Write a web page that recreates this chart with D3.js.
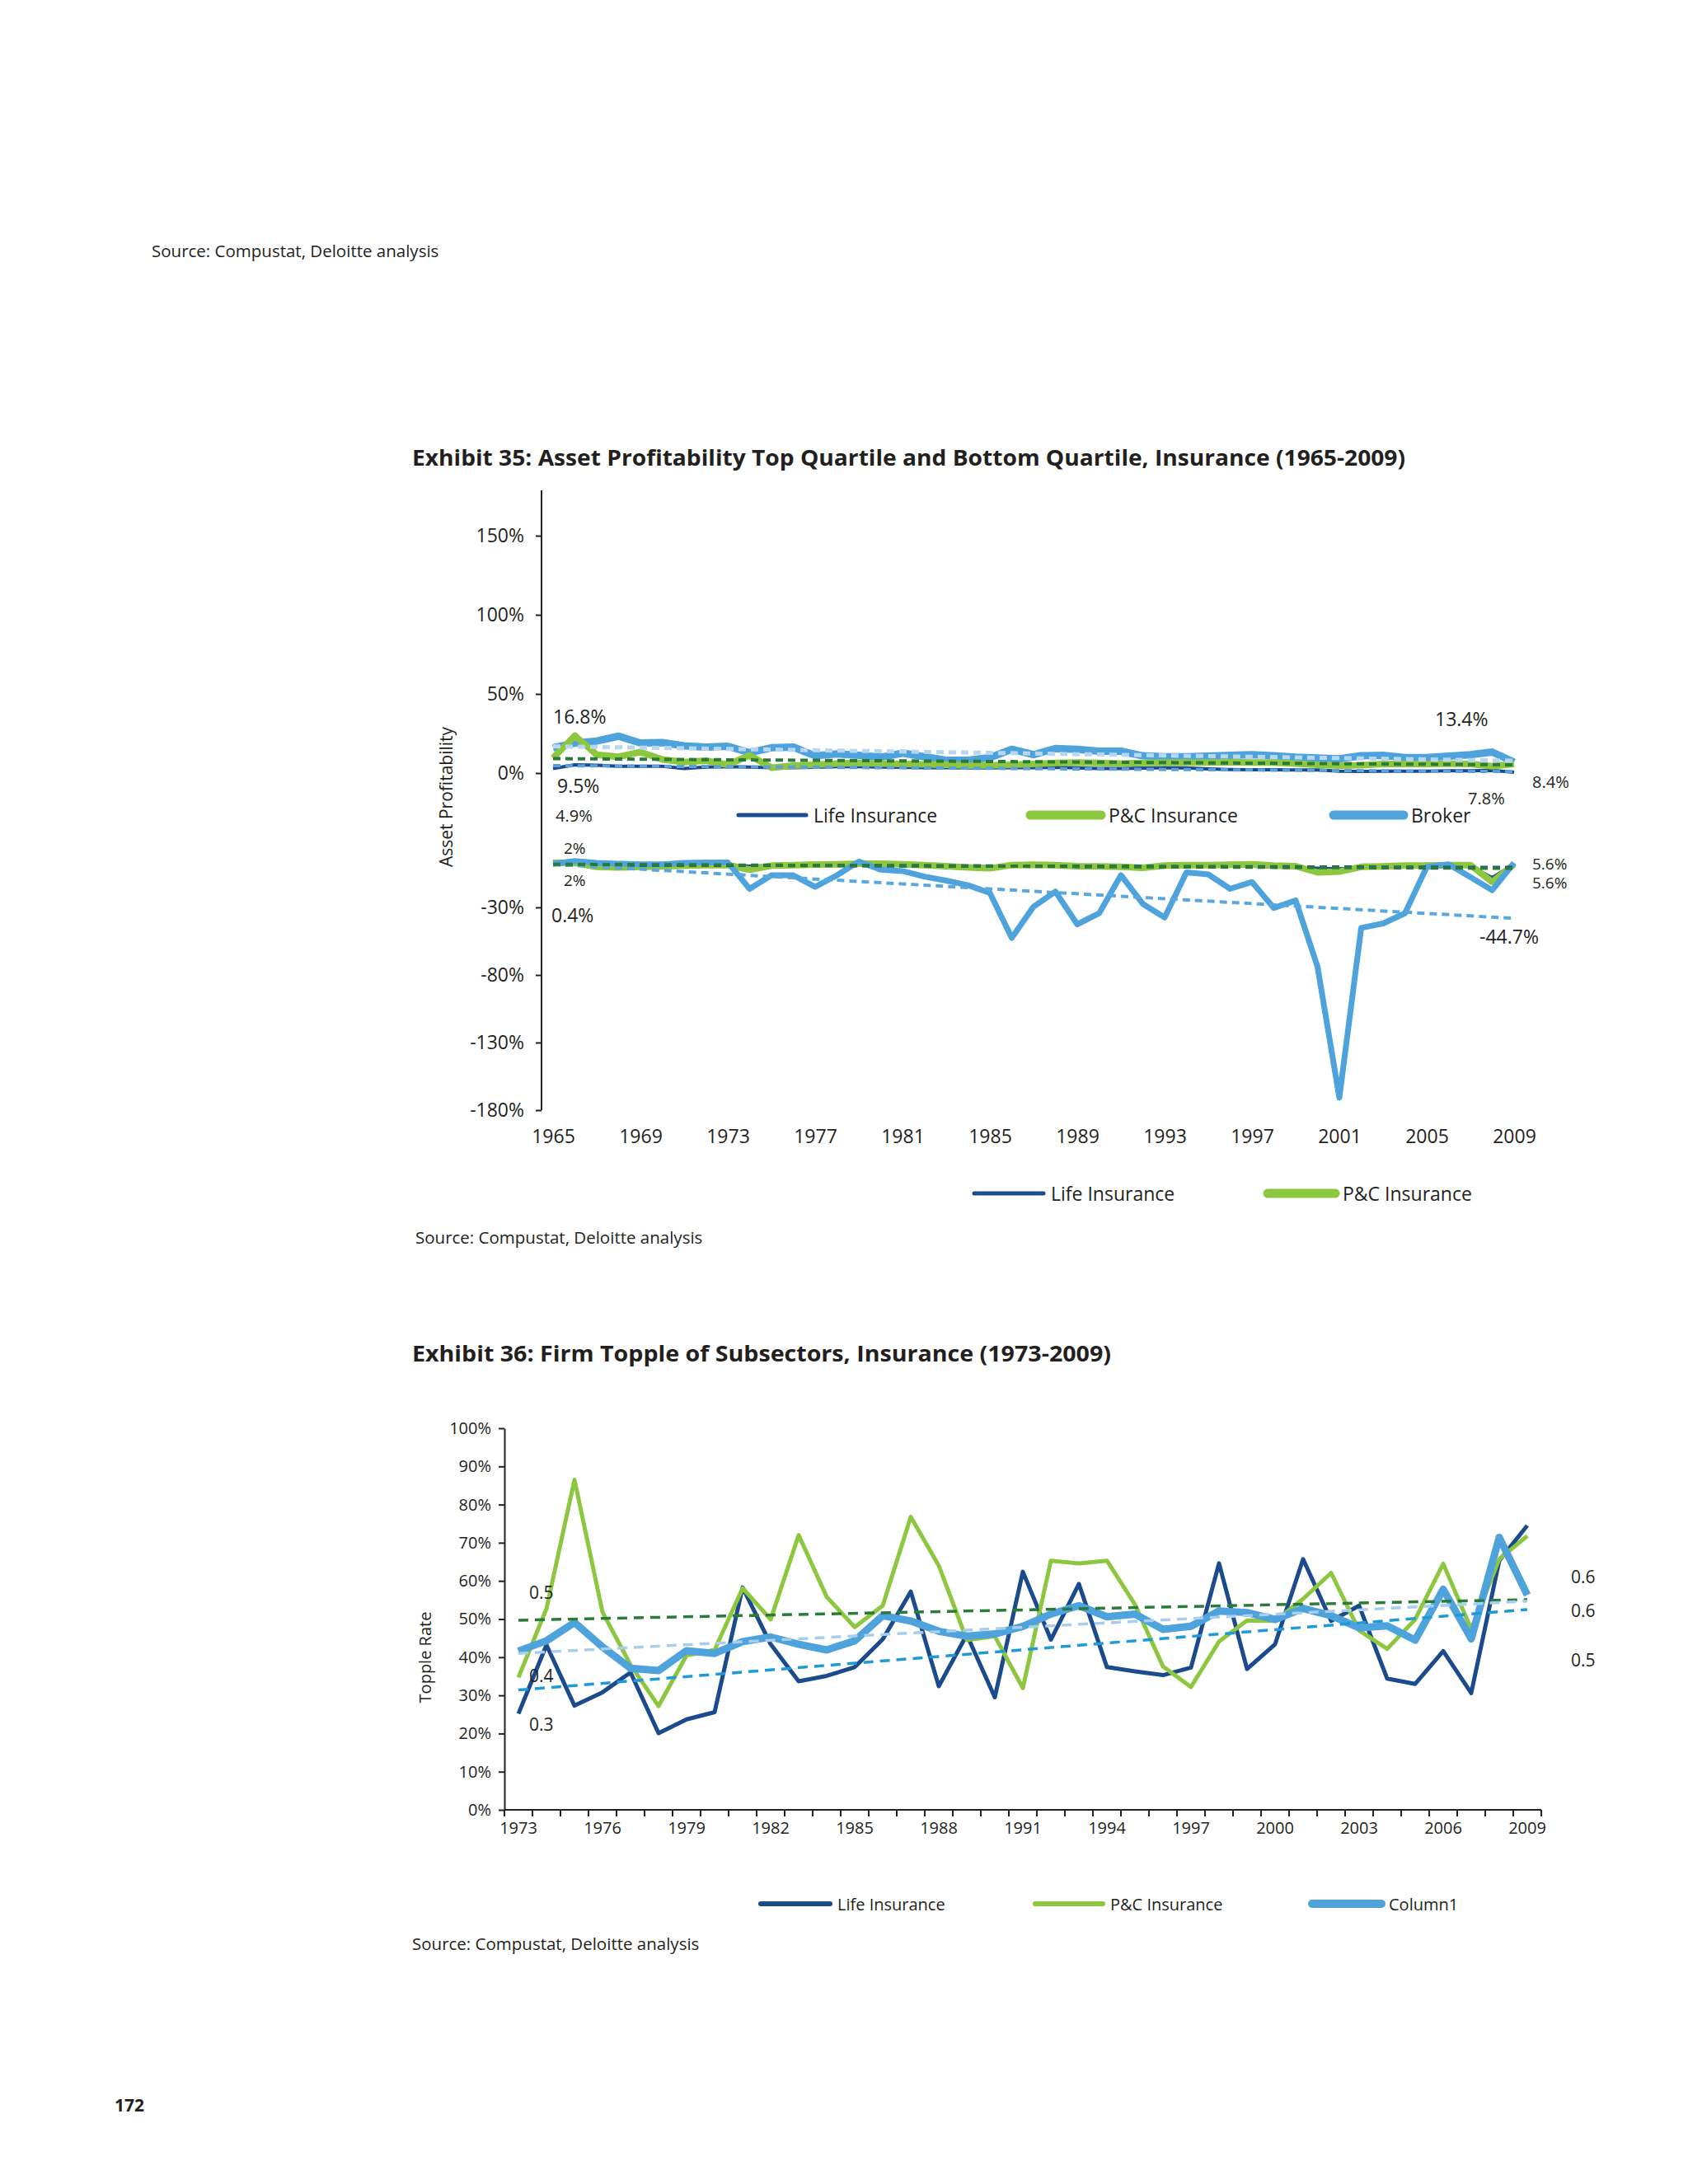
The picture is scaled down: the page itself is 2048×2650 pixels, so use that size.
<!DOCTYPE html>
<html>
<head>
<meta charset="utf-8">
<script src="https://cdn.jsdelivr.net/npm/d3@7"></script>
<style>
  html, body { margin: 0; padding: 0; background: #fff; }
  svg text { font-family: "Open Sans", "Noto Sans", sans-serif; fill: #231f20; }
</style>
</head>
<body>
<div id="wrapper"></div>
<script>
// ---- Exhibit 35 data (top quartile / bottom quartile) ----
const years35 = [1965,1966,1967,1968,1969,1970,1971,1972,1973,1974,1975,1976,1977,1978,1979,1980,1981,1982,1983,1984,1985,1986,1987,1988,1989,1990,1991,1992,1993,1994,1995,1996,1997,1998,1999,2000,2001,2002,2003,2004,2005,2006,2007,2008,2009];
const yearTicks35 = [1965,1969,1973,1977,1981,1985,1989,1993,1997,2001,2005,2009];
const upperTicks = [0, 50, 100, 150];
const lowerTicks = [-30, -80, -130, -180];

const lifeTop = [2.9,5.2,5.0,4.3,4.3,4.3,2.9,3.8,4.0,3.8,3.4,3.4,3.6,4.0,4.0,3.8,3.6,3.4,3.4,3.3,3.3,3.4,3.4,3.6,3.3,2.9,2.9,3.1,3.4,3.3,2.6,2.2,2.1,2.1,1.9,1.9,1.2,1.0,1.2,1.2,1.2,1.4,1.4,1.7,0.5];
const pcTop = [9.5,23.6,11.6,10.3,13.3,8.6,6.9,7.8,5.2,11.2,3.4,4.7,5.2,6.0,6.4,6.0,5.7,5.5,5.2,4.7,4.8,5.2,5.7,6.4,6.6,6.4,6.0,6.4,6.6,6.6,6.7,6.9,6.7,6.6,6.0,5.2,4.7,5.0,5.7,5.7,5.7,6.0,5.7,4.3,5.7];
const brokerTop = [15.9,19.0,20.2,23.3,19.0,19.3,17.2,16.4,16.9,12.9,16.0,16.4,10.9,12.1,11.2,10.0,12.6,10.3,8.1,8.1,9.8,15.0,11.6,15.5,15.0,13.8,13.8,10.9,10.3,10.3,10.7,11.2,11.6,10.9,10.0,9.5,9.0,10.9,11.2,9.8,9.8,10.7,11.6,13.3,6.9];

const lifeBot = [2.5,3.5,2.0,1.5,1.5,1.5,1.5,1.5,1.5,0.5,1.0,1.0,1.0,1.5,1.5,1.5,1.0,0.5,0.5,0.5,0,1.0,1.0,0.5,0.5,0.5,0,0,0.5,0.5,0.5,0.5,0.5,0,-0.5,-1.0,-1.5,-0.5,0,0.5,0.5,1.0,0.5,-8.0,2.0];
const pcBot = [2.9,2.9,0,-0.5,0,0.3,0.9,1.3,1.3,-2.1,0.9,1.3,1.7,1.9,2.3,2.3,1.9,1.3,0.5,-0.5,-1.1,1.3,1.5,1.3,0.5,0.3,0,-0.7,0.9,1.3,1.3,1.5,1.9,0.9,0.5,-4.1,-3.5,0,0.3,0.9,0.9,1.3,1.3,-11.2,1.9];
const brokerBot = [2.3,4.3,2.9,2.3,1.9,1.9,2.9,3.3,3.3,-16.3,-6.2,-6.2,-14.8,-6.2,3.9,-2.1,-3.1,-7.2,-10.2,-13.6,-19.3,-52.6,-29.4,-18.3,-42.5,-34.4,-6.2,-27.4,-37.5,-4.1,-5.6,-16.3,-11.2,-30.4,-24.9,-73.8,-170.8,-45.2,-41.9,-34.4,-0.1,1.9,-7.6,-17.3,2.9];

// trend line end values [1965, 2009]
const trendTopBroker = [16.9, 7.8];
const trendTopPC = [9.1, 5.2];
const trendTopLife = [4.7, 0.9];
const trendBotBroker = [1.9, -38.1];
const trendBotPC = [1.9, -1.1];
const trendBotLife = [1.5, -0.5];

// ---- Exhibit 36 data ----
const years36 = [1973,1974,1975,1976,1977,1978,1979,1980,1981,1982,1983,1984,1985,1986,1987,1988,1989,1990,1991,1992,1993,1994,1995,1996,1997,1998,1999,2000,2001,2002,2003,2004,2005,2006,2007,2008,2009];
const yearTicks36 = [1973,1976,1979,1982,1985,1988,1991,1994,1997,2000,2003,2006,2009];
const rateTicks = [0,0.1,0.2,0.3,0.4,0.5,0.6,0.7,0.8,0.9,1.0];
const life36 = [25.2,43.2,27.3,30.8,36.0,20.1,23.7,25.6,58.3,43.4,33.7,35.1,37.4,44.7,57.2,32.4,45.9,29.5,62.4,44.6,59.2,37.4,36.3,35.3,37.3,64.6,36.9,43.4,65.7,49.5,53.5,34.4,33.0,41.6,30.6,65.3,74.5];
const pc36 = [34.7,52.7,86.5,51.8,38.0,27.2,40.5,41.9,58.1,49.9,72.0,55.8,47.9,53.5,76.8,64.0,44.5,45.5,31.9,65.3,64.6,65.3,53.8,37.6,32.2,44.1,49.6,49.5,55.3,62.1,47.0,42.2,49.9,64.5,47.3,65.7,71.8];
const col36 = [41.6,44.3,49.1,42.7,37.1,36.5,41.7,41.0,44.1,45.3,43.4,41.9,44.3,50.9,49.5,46.8,45.5,46.1,48.1,51.3,53.5,50.6,51.3,47.3,48.1,52.1,51.7,49.9,52.8,50.9,47.7,48.2,44.5,57.8,44.8,71.4,56.3];
const trend36PC = [49.7, 55.1];
const trend36Col = [41.0, 54.7];
const trend36Life = [31.4, 52.5];

const C = {
  life: "#1b4a8d",
  pc: "#8dc63f",
  broker: "#4ea3dc",
  trendGreen: "#2a7a3a",
  trendPale: "#b7d6ef",
  trendBlue: "#1f9ad6",
  trendLife: "#5d9fd8"
};

const svg = d3.select("#wrapper").append("svg")
  .attr("width", 2048).attr("height", 2650);
svg.append("rect").attr("width", 2048).attr("height", 2650).attr("fill", "#fff");

function label(x, y, txt, size, opts = {}) {
  const t = svg.append("text").attr("x", x).attr("y", y)
    .attr("font-size", size).attr("dominant-baseline", "central")
    .attr("text-anchor", opts.anchor || "start")
    .attr("font-weight", opts.bold ? 700 : 400)
    .text(txt);
  if (opts.len) t.attr("textLength", opts.len).attr("lengthAdjust", "spacingAndGlyphs");
  return t;
}

// page text
label(184, 304, "Source: Compustat, Deloitte analysis", 20.5);
label(139, 2554, "172", 21, { bold: true });

// ================= Exhibit 35 =================
label(500, 554, "Exhibit 35: Asset Profitability Top Quartile and Bottom Quartile, Insurance (1965-2009)", 27, { bold: true, len: 1205 });

const x35 = d3.scaleLinear().domain([1965, 2009]).range([671, 1837]);
const yUp = d3.scaleLinear().domain([0, 150]).range([938, 650]);
const yLo = d3.scaleLinear().domain([-180, -30]).range([1347, 1101]);
const axisX35 = 657;

const g35 = svg.append("g");
g35.append("line").attr("x1", axisX35).attr("x2", axisX35)
  .attr("y1", 595).attr("y2", yLo(-180)).attr("stroke", "#222").attr("stroke-width", 2);

[[yUp, upperTicks], [yLo, lowerTicks]].forEach(([sc, tv]) => {
  const ax = g35.append("g").attr("transform", `translate(${axisX35},0)`)
    .call(d3.axisLeft(sc).tickValues(tv).tickFormat(d => d + "%").tickSize(7).tickPadding(14));
  ax.select(".domain").remove();
  ax.selectAll("line").attr("stroke", "#222").attr("stroke-width", 2);
  ax.selectAll("text").attr("font-size", 23).attr("font-family", null).attr("fill", "#231f20");
});

const xAx35 = g35.append("g").attr("transform", "translate(0,1368)")
  .call(d3.axisBottom(x35).tickValues(yearTicks35).tickFormat(d3.format("d")).tickSize(0).tickPadding(3));
xAx35.select(".domain").remove();
xAx35.selectAll("text").attr("font-size", 23).attr("font-family", null).attr("fill", "#231f20");

function drawSeries(g, vals, sc, color, width, dash) {
  const line = d3.line().x((d, i) => x35(years35[i])).y(d => sc(d));
  const p = g.append("path").attr("d", line(vals)).attr("fill", "none")
    .attr("stroke", color).attr("stroke-width", width).attr("stroke-linejoin", "round");
  if (dash) p.attr("stroke-dasharray", dash);
  return p;
}
function drawTrend(g, ends, sc, color, width, dash) {
  const line = d3.line().x(d => x35(d[0])).y(d => sc(d[1]));
  g.append("path").attr("d", line([[1965, ends[0]], [2009, ends[1]]]))
    .attr("fill", "none").attr("stroke", color).attr("stroke-width", width)
    .attr("stroke-dasharray", dash);
}

// upper (top quartile)
drawSeries(g35, brokerTop, yUp, C.broker, 9);
drawSeries(g35, lifeTop, yUp, C.life, 4);
drawSeries(g35, pcTop, yUp, C.pc, 8);
drawTrend(g35, trendTopBroker, yUp, C.trendPale, 5, "9 6");
drawTrend(g35, trendTopLife, yUp, C.trendLife, 4, "9 6");
drawTrend(g35, trendTopPC, yUp, C.trendGreen, 4, "9 6");

// lower (bottom quartile)
drawSeries(g35, lifeBot, yLo, C.life, 4);
drawSeries(g35, pcBot, yLo, C.pc, 8);
drawSeries(g35, brokerBot, yLo, C.broker, 7);
drawTrend(g35, trendBotLife, yLo, C.life, 4, "9 6");
drawTrend(g35, trendBotBroker, yLo, "#5aa7dd", 4, "9 6");
drawTrend(g35, trendBotPC, yLo, C.trendGreen, 4, "9 6");

// value labels [text, x, y, size]
[["16.8%", 671, 869, 23], ["9.5%", 676, 953, 23], ["4.9%", 674, 989, 20], ["13.4%", 1741, 872, 23],
 ["8.4%", 1859, 948, 20], ["7.8%", 1781, 968, 20], ["2%", 684, 1029, 19], ["2%", 684, 1068, 19],
 ["0.4%", 669, 1110, 23], ["5.6%", 1859, 1048, 19], ["5.6%", 1859, 1071, 19], ["-44.7%", 1795, 1136, 23]]
  .forEach(d => label(d[1], d[2], d[0], d[3]));

// y title
svg.append("text").attr("transform", "translate(541,967) rotate(-90)")
  .attr("text-anchor", "middle").attr("dominant-baseline", "central")
  .attr("font-size", 21).text("Asset Profitability");

// legend inside chart
function legendItem(x1, x2, y, color, w, txt, size) {
  svg.append("line").attr("x1", x1).attr("x2", x2).attr("y1", y).attr("y2", y)
    .attr("stroke", color).attr("stroke-width", w).attr("stroke-linecap", "round");
  label(x2 + 9, y, txt, size);
}
legendItem(896, 978, 989, C.life, 5, "Life Insurance", 23);
legendItem(1250, 1336, 989, C.pc, 11, "P&C Insurance", 23);
legendItem(1618, 1703, 989, C.broker, 11, "Broker", 23);

// legend below chart
legendItem(1182, 1266, 1448, C.life, 5, "Life Insurance", 23);
legendItem(1538, 1620, 1448, C.pc, 11, "P&C Insurance", 23);

label(504, 1501, "Source: Compustat, Deloitte analysis", 20.5);

// ================= Exhibit 36 =================
label(500, 1641, "Exhibit 36: Firm Topple of Subsectors, Insurance (1973-2009)", 27, { bold: true, len: 848 });

const xb = d3.scaleBand().domain(years36).range([612, 1870]);
const y36 = d3.scaleLinear().domain([0, 1]).range([2196, 1733]);
const g36 = svg.append("g");

const yAx36 = g36.append("g").attr("transform", "translate(612,0)")
  .call(d3.axisLeft(y36).tickValues(rateTicks).tickFormat(d3.format(".0%")).tickSize(7).tickSizeOuter(0).tickPadding(9));
yAx36.selectAll("line, path").attr("stroke", "#222").attr("stroke-width", 2);
yAx36.selectAll("text").attr("font-size", 20).attr("font-family", null).attr("fill", "#231f20");

// x axis: line + ticks between categories
g36.append("line").attr("x1", xb.range()[0]).attr("x2", xb.range()[1])
  .attr("y1", y36(0)).attr("y2", y36(0)).attr("stroke", "#222").attr("stroke-width", 2);
g36.selectAll(".cat-tick").data(years36.concat([null])).join("line")
  .attr("x1", (d, i) => xb.range()[0] + i * xb.step())
  .attr("x2", (d, i) => xb.range()[0] + i * xb.step())
  .attr("y1", y36(0)).attr("y2", y36(0) + 8).attr("stroke", "#222").attr("stroke-width", 2);
const xAx36 = g36.append("g").attr("transform", `translate(0,${y36(0) + 15})`)
  .call(d3.axisBottom(xb).tickValues(yearTicks36).tickSize(0).tickPadding(0));
xAx36.select(".domain").remove();
xAx36.selectAll("text").attr("font-size", 20).attr("font-family", null).attr("fill", "#231f20");

const cx = y => xb(y) + xb.bandwidth() / 2;
function series36(vals, color, width) {
  const line = d3.line().x((d, i) => cx(years36[i])).y(d => y36(d / 100));
  g36.append("path").attr("d", line(vals)).attr("fill", "none")
    .attr("stroke", color).attr("stroke-width", width).attr("stroke-linejoin", "round");
}
function trend36(ends, color) {
  const line = d3.line().x(d => cx(d[0])).y(d => y36(d[1] / 100));
  g36.append("path").attr("d", line([[1973, ends[0]], [2009, ends[1]]]))
    .attr("fill", "none").attr("stroke", color).attr("stroke-width", 3.5)
    .attr("stroke-dasharray", "12 8");
}
series36(life36, C.life, 5);
series36(pc36, C.pc, 5);
series36(col36, C.broker, 9);
trend36(trend36PC, C.trendGreen);
trend36(trend36Col, "#a9cdec");
trend36(trend36Life, C.trendBlue);

[["0.5", 642, 1932], ["0.4", 642, 2033], ["0.3", 642, 2092],
 ["0.6", 1906, 1913], ["0.6", 1906, 1954], ["0.5", 1906, 2014]]
  .forEach(d => label(d[1], d[2], d[0], 21));

svg.append("text").attr("transform", "translate(515,2011) rotate(-90)")
  .attr("text-anchor", "middle").attr("dominant-baseline", "central")
  .attr("font-size", 20).text("Topple Rate");

legendItem(923, 1007, 2310, C.life, 6, "Life Insurance", 20);
legendItem(1256, 1338, 2310, C.pc, 6, "P&C Insurance", 20);
legendItem(1592, 1676, 2310, C.broker, 10, "Column1", 20);

label(500, 2358, "Source: Compustat, Deloitte analysis", 20.5);
</script>
</body>
</html>
